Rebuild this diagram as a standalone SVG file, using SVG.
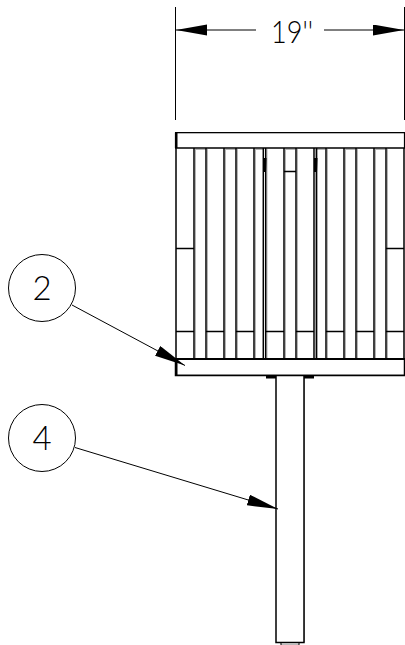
<svg xmlns="http://www.w3.org/2000/svg" width="405" height="645" viewBox="0 0 405 645">
<style>
.l{stroke:#000;stroke-width:1.2;fill:none}
.k{stroke:#000;stroke-width:1.5;fill:none}
.g{stroke:#b5b5b5;stroke-width:1;fill:none}
.t{stroke:#000;stroke-width:1;fill:none}
text{font-family:"Lato","Liberation Sans",sans-serif;fill:#000;font-weight:300}
</style>
<defs>
<marker id="a" markerUnits="userSpaceOnUse" markerWidth="32" markerHeight="12" refX="31" refY="5.500" orient="auto-start-reverse"><path d="M0 0L31 5.500L0 11Z" fill="#000"/></marker>
</defs>
<rect width="405" height="645" fill="#fff"/>
<g id="bin">
<path class="g" d="M177 133.500H404M177 374.500H404M195.500 149V359M207.500 149V359M225.500 149V359M237.500 149V359M255.500 149V359M267 149V359M285.500 149V359M297.500 149V359M315.500 149V359M327.500 149V359M345.500 149V359M357.500 149V359M375.500 149V359M387.500 149V359M304.500 378V642"/>
<path class="g" d="M195 149.500H206M225 149.500H236M255 149.500H263M285 149.500H295M315 149.500H325M345 149.500H355M375 149.500H385"/>
<path class="l" d="M175.500 132.500H404.500V148M175.500 148V132.500"/>
<rect x="175" y="132" width="2.500" height="16" fill="#000"/>
<path class="k" d="M175 148H405"/>
<path class="k" d="M176 148V359M194 148V359M206 148V359M224 148V359M236 148V359M254 148V359M263.300 148V359M265.700 148V359M284 148V359M296 148V359M314 148V359M316.600 148V359M326 148V359M344 148V359M356 148V359M374 148V359M386 148V359M404 148V359"/>
<path class="k" d="M176 248.500H194M386 248.500H404M284 171.500H296"/>
<path class="k" d="M176 331.500H194M206 331.500H224M236 331.500H254M266 331.500H284M296 331.500H314M326 331.500H344M356 331.500H374M386 331.500H404"/>
<path d="M263 158H266.500L266 172H263ZM314 158H317.500L317 172H314Z" fill="#000"/>
<path d="M175 359H405" stroke="#000" stroke-width="2" fill="none"/>
<path class="k" d="M175.500 359V375.500H404.500V359"/>
<rect x="175" y="361" width="2.500" height="15" fill="#000"/>
</g>
<g id="post">
<path class="k" d="M276 376V642.500H304V376M276 642.500H304"/>
<path d="M266 375.500H276V378.500H266ZM304 375.500H314V378.500H304Z" fill="#000"/>
<path d="M281 643H299V645H281Z" fill="#bbb"/>
<path class="t" d="M281 643V645M299 643V645"/>
</g>
<g id="connectors">
<path class="t" d="M175.500 7V120M404.500 7V120"/>
<path class="t" d="M256 30H176" marker-end="url(#a)"/>
<path class="t" d="M324 30H404" marker-end="url(#a)"/>
<path class="t" d="M72 305L185 365.500" marker-end="url(#a)"/>
<path class="t" d="M75 447.500L278 509" marker-end="url(#a)"/>
</g>
<g id="dim"><text x="292" y="43" font-size="32" text-anchor="middle" textLength="42" lengthAdjust="spacingAndGlyphs">19''</text></g>
<g id="balloon2"><circle class="t" cx="42" cy="288" r="33.500"/><text x="42" y="300" font-size="33" text-anchor="middle">2</text></g>
<g id="balloon4"><circle class="t" cx="42" cy="438" r="33.500"/><text x="42" y="450" font-size="33" text-anchor="middle">4</text></g>
</svg>
